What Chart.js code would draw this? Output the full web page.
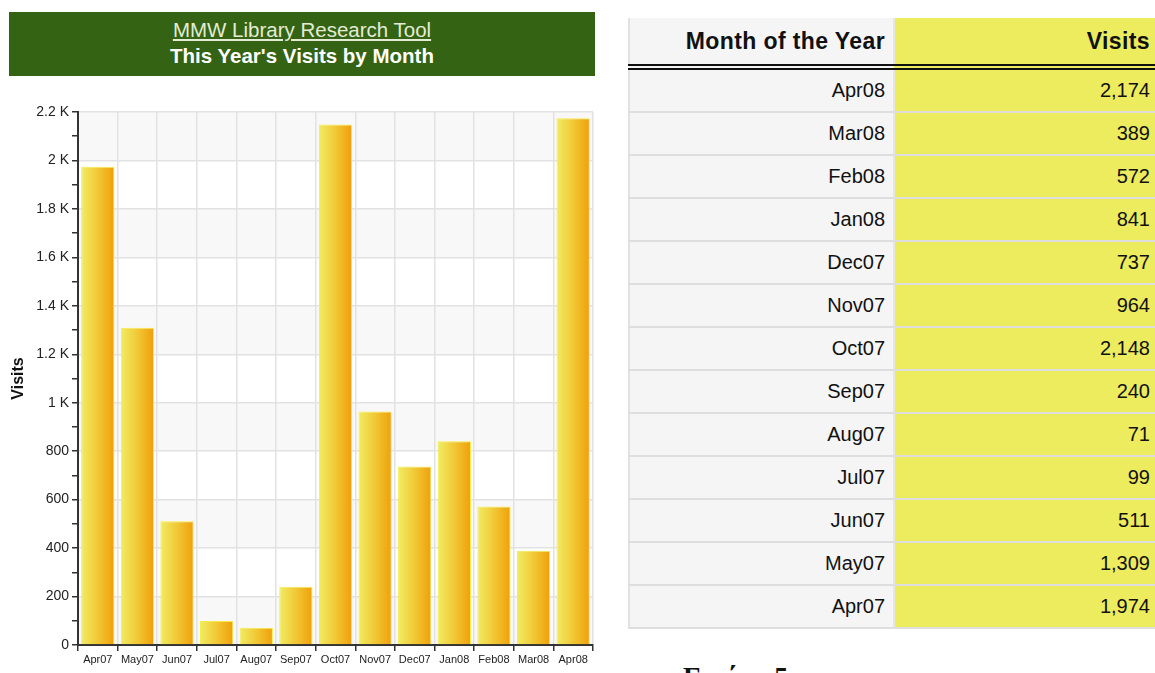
<!DOCTYPE html>
<html>
<head>
<meta charset="utf-8">
<script src="https://cdn.jsdelivr.net/npm/chart.js@4.4.1/dist/chart.umd.min.js"></script>
<style>
    html, body { margin: 0; padding: 0; background: #fff; width: 1155px; height: 673px; overflow: hidden; }
    body { position: relative; font-family: "Liberation Sans", Arial, sans-serif; }
    #header {
        position: absolute; left: 9px; top: 12px; width: 586px; height: 64px;
        background: #336313; text-align: center; color: #fff;
    }
    #header .t1 { font-size: 20.5px; color: #e4ecd6; text-decoration: underline; line-height: 26px; padding-top: 5px; }
    #header .t2 { font-size: 20.5px; font-weight: bold; line-height: 26px; }
    #chartBox { position: absolute; left: 0; top: 0; width: 600px; height: 673px; }
    #visitsTable {
        position: absolute; left: 628px; top: 18px; border-collapse: collapse;
        font-size: 20px; color: #111;
    }
    #visitsTable td, #visitsTable th { padding: 0; text-align: right; }
    #visitsTable th { height: 46px; font-size: 23px; font-weight: bold; letter-spacing: 0.4px; border-bottom: 6px double #111; }
    #visitsTable td { height: 41px; border-bottom: 2px solid #dedede; }
    #visitsTable .c1 { width: 257px; padding-right: 8px; background: #f5f5f5; border-left: 2px solid #e2e2e2; border-right: 2px solid #e6e6e6; }
    #visitsTable .c2 { width: 257px; padding-right: 5px; background: #ecec5e; }
    #caption {
        position: absolute; left: 683px; top: 663px; font-family: "Liberation Serif", "DejaVu Serif", serif;
        font-weight: bold; font-size: 28px; line-height: 28px; color: #111;
    }
</style>
</head>
<body>
<div id="chartBox"><canvas id="visitsChart"></canvas></div>
<div id="header">
    <div class="t1">MMW Library Research Tool</div>
    <div class="t2">This Year's Visits by Month</div>
</div>
<table id="visitsTable"></table>
<div id="caption">Εικόνα 5</div>

<script>
// 月份与访问量
const months = ['Apr07', 'May07', 'Jun07', 'Jul07', 'Aug07', 'Sep07', 'Oct07', 'Nov07', 'Dec07', 'Jan08', 'Feb08', 'Mar08', 'Apr08'];
const visits = [1974, 1309, 511, 99, 71, 240, 2148, 964, 737, 841, 572, 389, 2174];
const yTickLabels = { 0: '0', 200: '200', 400: '400', 600: '600', 800: '800', 1000: '1 K', 1200: '1.2 K', 1400: '1.4 K', 1600: '1.6 K', 1800: '1.8 K', 2000: '2 K', 2200: '2.2 K' };

const BAR_PCT = 0.84;

// 表格：从最新月份开始倒序
function buildTable() {
    const table = document.getElementById('visitsTable');
    let html = '<tr><th class="c1">Month of the Year</th><th class="c2">Visits</th></tr>';
    for (let i = months.length - 1; i >= 0; i--) {
        html += `<tr><td class="c1">${months[i]}</td><td class="c2">${visits[i].toLocaleString('en-US')}</td></tr>`;
    }
    table.innerHTML = html;
}
buildTable();

// 交替的背景条纹
const bandPlugin = {
    id: 'bands',
    beforeDraw(chart) {
        const { ctx, chartArea, scales } = chart;
        ctx.save();
        ctx.fillStyle = '#f8f8f8';
        for (let v = 0; v < 2200; v += 400) {
            const yTop = scales.y.getPixelForValue(v + 200);
            const yBot = scales.y.getPixelForValue(v);
            ctx.fillRect(chartArea.left, yTop, chartArea.right - chartArea.left, yBot - yTop);
        }
        ctx.restore();
    }
};

function barGradient(c) {
    const chart = c.chart;
    const xs = chart.scales.x;
    if (!xs || c.dataIndex === undefined || !xs.width) return '#f0c030';
    const x = xs.getPixelForValue(c.dataIndex);
    const w = xs.width / months.length * BAR_PCT;
    const g = chart.ctx.createLinearGradient(x - w / 2, 0, x + w / 2, 0);
    g.addColorStop(0, '#f0ec62');
    g.addColorStop(0.45, '#f1cc3a');
    g.addColorStop(1, '#f09f08');
    return g;
}

const ctx = document.getElementById('visitsChart').getContext('2d');
new Chart(ctx, {
    type: 'bar',
    data: {
        labels: months,
        datasets: [{
            label: 'Visits',
            data: visits,
            backgroundColor: barGradient,
            borderColor: '#f6ec48',
            borderWidth: 1,
            barPercentage: BAR_PCT,
            categoryPercentage: 1
        }]
    },
    options: {
        responsive: true,
        maintainAspectRatio: false,
        animation: false,
        layout: { padding: { top: 112, right: 7, bottom: 0, left: 0 } },
        plugins: {
            legend: { display: false },
            tooltip: { enabled: false }
        },
        scales: {
            x: {
                afterFit(scale) { scale.height = 28; },
                border: { color: '#333', width: 2 },
                grid: { color: '#e2e2e2', lineWidth: 1.5, tickColor: '#333', tickLength: 6, offset: true },
                ticks: { color: '#222', font: { size: 11, family: 'Liberation Sans' }, padding: 2, maxRotation: 0, autoSkip: false }
            },
            y: {
                min: 0,
                max: 2200,
                afterFit(scale) { scale.width = 78; },
                border: { color: '#333', width: 2 },
                grid: {
                    color: c => (c.tick && c.tick.value % 200 === 0) ? '#e2e2e2' : 'rgba(0,0,0,0)',
                    lineWidth: 1.5,
                    tickColor: '#333',
                    tickLength: 6
                },
                ticks: {
                    stepSize: 100,
                    autoSkip: false,
                    color: '#222',
                    font: { size: 14, family: 'Liberation Sans' },
                    padding: 3,
                    callback: v => yTickLabels[v] !== undefined ? yTickLabels[v] : ''
                },
                title: {
                    display: true,
                    text: 'Visits',
                    color: '#111',
                    font: { size: 16, weight: 'bold', family: 'Liberation Sans' },
                    padding: { top: 9, bottom: 0 }
                }
            }
        }
    },
    plugins: [bandPlugin]
});
</script>
</body>
</html>
